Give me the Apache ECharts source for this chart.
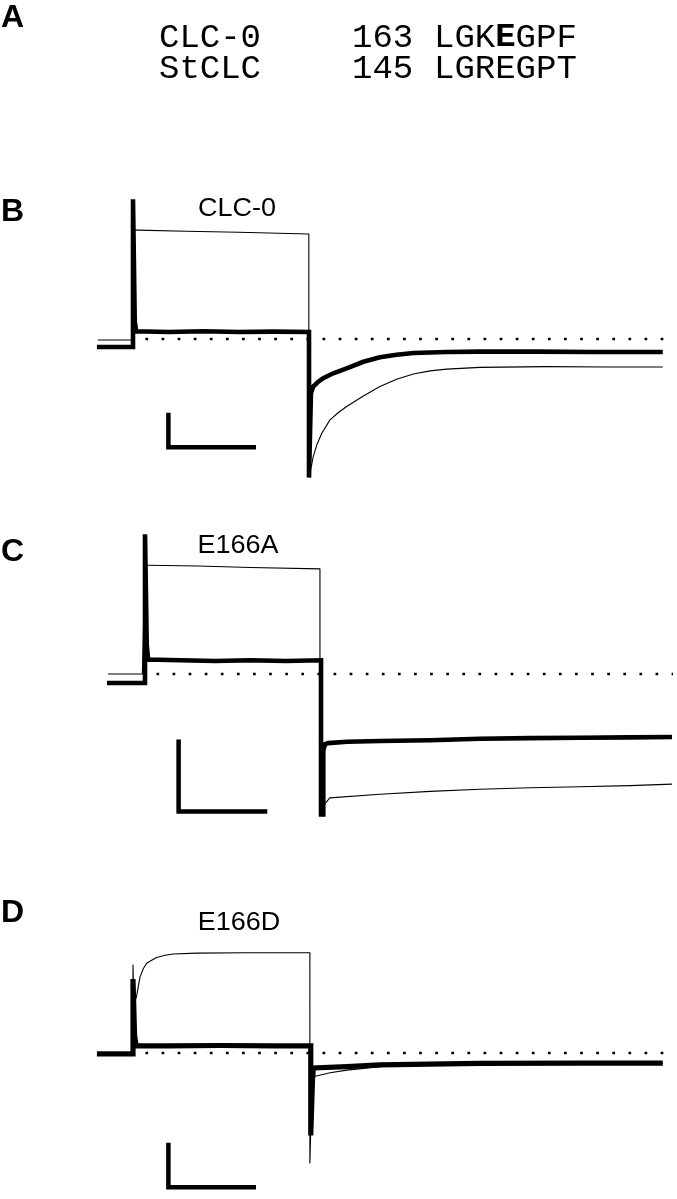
<!DOCTYPE html>
<html><head><meta charset="utf-8">
<script src="https://cdn.jsdelivr.net/npm/echarts@6/dist/echarts.min.js"></script>
<style>html,body{margin:0;padding:0;background:#fff}#c{width:677px;height:1199px}</style>
</head><body><div id="c"></div>
<script>
// ---------- Panel A: sequence alignment ----------
const seqNames = ['CLC-0', 'StCLC'];
const seqStarts = ['163', '145'];
const seqResidues = ['LGKEGPF', 'LGREGPT'];
const boldResidueIndex = 3; // glutamate highlighted in CLC-0

const panelTitles = ['CLC-0', 'E166A', 'E166D'];
const panelLetters = ['A', 'B', 'C', 'D'];

// Time in ms (pulse from 0 to ~100 ms), current in scale-bar units
// ---------- Panel B: CLC-0 ----------
const bThickT = [-20.5, 0, 0, 0.8, 1.0, 1.8, 20, 40, 60, 80, 100, 100, 100.9, 101.1, 102.4, 105.3, 108.1, 113.8, 121.4, 130.9, 140.3, 149.8, 159.3, 178.2, 197, 230, 260, 301];
const bThickY = [-0.23, -0.23, 3.99, 3.99, 0.5, 0.22, 0.2, 0.22, 0.2, 0.21, 0.2, -3.96, -3.96, -1.55, -1.36, -1.22, -1.12, -0.98, -0.84, -0.65, -0.52, -0.45, -0.40, -0.37, -0.36, -0.36, -0.37, -0.37];
const bThinT = [-20, -0.5, 0, 2.8, 30, 60, 99.9, 99.9, 101.5, 102.4, 104.4, 107.2, 111.9, 116.7, 121.4, 130.9, 140.3, 149.8, 159.3, 168.8, 178.2, 197.2, 235, 270, 301];
const bThinY = [-0.03, -0.03, 3.11, 3.11, 3.08, 3.05, 3.0, -3.9, -3.6, -3.36, -3.03, -2.70, -2.31, -2.10, -1.93, -1.63, -1.36, -1.15, -1.00, -0.91, -0.86, -0.81, -0.79, -0.80, -0.80];
const bZeroT = [7.07, 301.7];
const bBarT = [20.1, 20.1, 69.9];
const bBarY = [-2.11, -3.09, -3.09];

// ---------- Panel C: E166A ----------
const cThickT = [-21.6, 0, 0, 0.8, 1.0, 1.8, 20, 40, 60, 80, 100, 100, 101.3, 101.3, 102.3, 104, 114.8, 133.5, 162, 190.3, 218.8, 247, 275.6, 299.4];
const cThickY = [-0.125, -0.125, 1.94, 1.94, 0.4, 0.2, 0.19, 0.18, 0.19, 0.18, 0.19, -1.95, -1.95, -1.06, -0.975, -0.96, -0.94, -0.93, -0.92, -0.90, -0.89, -0.885, -0.88, -0.875];
const cThinT = [-21, -1.5, 0, 1.7, 30, 60, 99.4, 99.4, 101, 102.3, 105, 133.5, 162, 190.3, 218.8, 247, 275.6, 299.4];
const cThinY = [0, 0, 1.51, 1.51, 1.50, 1.48, 1.46, -1.9, -1.85, -1.80, -1.72, -1.67, -1.63, -1.60, -1.58, -1.565, -1.55, -1.53];
const cZeroT = [6.5, 300];
const cBarT = [19.1, 19.1, 69.5];
const cBarY = [-0.91, -1.91, -1.91];

// ---------- Panel D: E166D ----------
const dThickT = [-20.5, 0, 0, 0.6, 0.9, 1.8, 20, 50, 80, 101, 101, 101.6, 102, 102.5, 121.6, 140.3, 197, 254, 301];
const dThickY = [-0.02, -0.02, 1.68, 1.68, 0.4, 0.16, 0.16, 0.17, 0.16, 0.16, -1.875, -1.875, -0.6, -0.34, -0.31, -0.27, -0.235, -0.23, -0.23];
const dThinT = [-20, 0, 0, 0.5, 2, 4, 5.9, 7.8, 10.6, 13.4, 18.2, 22.9, 36.2, 64.6, 100.5, 100.5, 101.3, 101.6, 102.3, 112, 121.6, 140.3, 150, 197, 301];
const dThinY = [0, 0, 2.0, 1.1, 1.28, 1.73, 1.92, 2.04, 2.11, 2.17, 2.22, 2.25, 2.27, 2.28, 2.28, -2.5, -2.5, -0.8, -0.54, -0.45, -0.39, -0.31, -0.27, -0.24, -0.23];
const dZeroT = [7.07, 301.7];
const dBarT = [20.1, 20.1, 69.9];
const dBarY = [-2.04, -3.05, -3.05];

const zip = (t, y) => t.map((v, i) => [v, y[i]]);

const chart = echarts.init(document.getElementById('c'), null, {renderer: 'canvas'});

const grids = [
  {left: 89, top: 164, width: 580.8, height: 350},
  {left: 101, top: 458, width: 572.9, height: 432},
  {left: 89, top: 947.4, width: 580.8, height: 246.4}
];
const xRanges = [[-25, 305], [-25, 300.5], [-25, 305]];
const yRanges = [[-5, 5], [-3, 3], [-3.2, 2.4]];

const panels = [
  {thick: zip(bThickT, bThickY), thin: zip(bThinT, bThinY), zero: bZeroT, bar: zip(bBarT, bBarY), tw: 4.6},
  {thick: zip(cThickT, cThickY), thin: zip(cThinT, cThinY), zero: cZeroT, bar: zip(cBarT, cBarY), tw: 4.6},
  {thick: zip(dThickT, dThickY), thin: zip(dThinT, dThinY), zero: dZeroT, bar: zip(dBarT, dBarY), tw: 5.2}
];

const base = {type: 'line', showSymbol: false, symbol: 'none', silent: true, animation: false, clip: false, smooth: false};
const series = [];
panels.forEach((p, i) => {
  series.push(Object.assign({}, base, {
    xAxisIndex: i, yAxisIndex: i, z: 1,
    data: [[p.zero[0], 0], [p.zero[1], 0]],
    lineStyle: {color: '#000', width: 2.7, type: [2.7, 13.4], cap: 'butt'}
  }));
  series.push(Object.assign({}, base, {
    xAxisIndex: i, yAxisIndex: i, z: 2, data: p.thin,
    lineStyle: {color: '#000', width: 1.1, cap: 'butt', join: 'round'}
  }));
  series.push(Object.assign({}, base, {
    xAxisIndex: i, yAxisIndex: i, z: 3, data: p.thick,
    lineStyle: {color: '#000', width: p.tw, cap: 'butt', join: 'miter'}
  }));
  series.push(Object.assign({}, base, {
    xAxisIndex: i, yAxisIndex: i, z: 4, data: p.bar,
    lineStyle: {color: '#000', width: 4.5, cap: 'butt', join: 'miter'}
  }));
});

const letterFont = 'bold 32px "Liberation Sans", Arial, sans-serif';
const labelFont = '25px "Liberation Sans", Arial, sans-serif';
const monoFont = '34px "Liberation Mono", "Courier New", monospace';
const monoBold = 'bold 34px "Liberation Mono", "Courier New", monospace';

const letterY = [18, 212, 552, 913];
const titleY = [209, 546.5, 923.5];
const titleX = [237, 238, 239];
const graphic = [];
panelLetters.forEach((L, i) => graphic.push({
  type: 'text', x: 1, y: letterY[i],
  style: {text: L, font: letterFont, fill: '#000', textVerticalAlign: 'middle'}
}));
panelTitles.forEach((t, i) => graphic.push({
  type: 'text', x: titleX[i], y: titleY[i], scaleX: 1.08,
  style: {text: t, font: labelFont, fill: '#000', textAlign: 'center', textVerticalAlign: 'middle'}
}));
const rowY = [37.5, 69];
const colX = [159, 352, 434];
seqNames.forEach((name, r) => {
  graphic.push({type: 'text', x: colX[0], y: rowY[r],
    style: {text: name, font: monoFont, fill: '#000', textVerticalAlign: 'middle'}});
  graphic.push({type: 'text', x: colX[1], y: rowY[r],
    style: {text: seqStarts[r], font: monoFont, fill: '#000', textVerticalAlign: 'middle'}});
  const res = seqResidues[r];
  const txt = r === 0
    ? '{n|' + res.slice(0, boldResidueIndex) + '}{b|' + res[boldResidueIndex] + '}{n|' + res.slice(boldResidueIndex + 1) + '}'
    : '{n|' + res + '}';
  graphic.push({type: 'text', x: colX[2], y: rowY[r],
    style: {text: txt, font: monoFont, fill: '#000', textVerticalAlign: 'middle',
      rich: {n: {font: monoFont, fill: '#000'}, b: {font: monoBold, fill: '#000'}}}});
});

chart.setOption({
  backgroundColor: '#fff',
  animation: false,
  grid: grids,
  xAxis: xRanges.map((r, i) => ({type: 'value', gridIndex: i, min: r[0], max: r[1], show: false})),
  yAxis: yRanges.map((r, i) => ({type: 'value', gridIndex: i, min: r[0], max: r[1], show: false})),
  series: series,
  graphic: graphic
});
</script></body></html>
